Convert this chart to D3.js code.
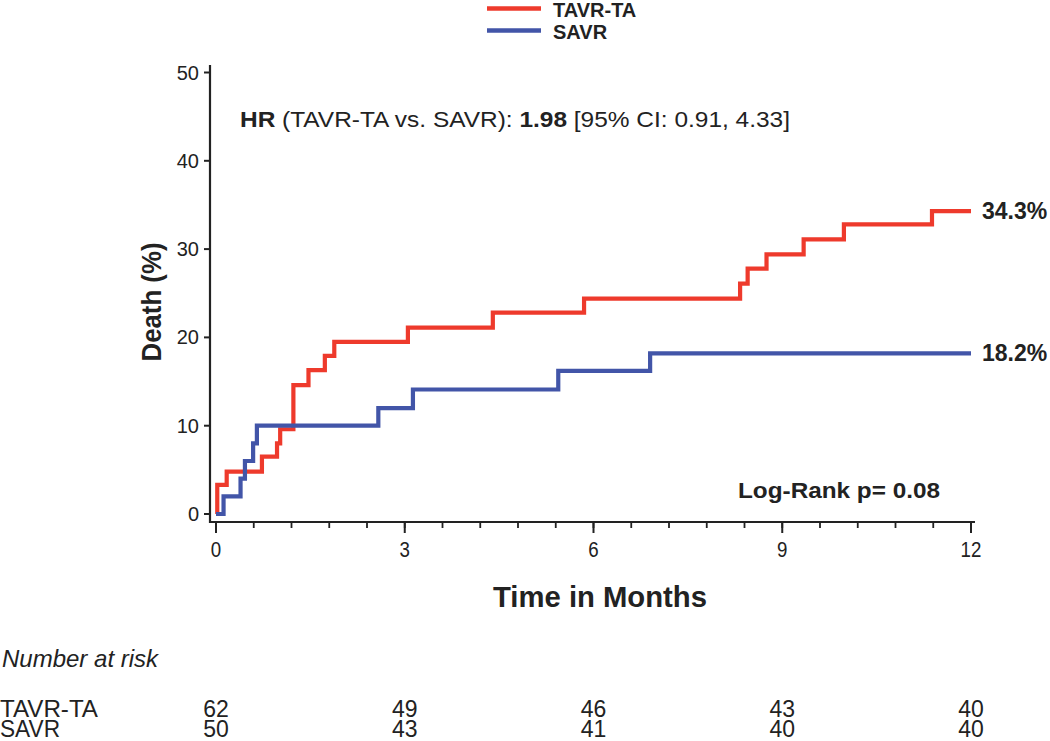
<!DOCTYPE html>
<html><head><meta charset="utf-8">
<script src="https://cdn.jsdelivr.net/npm/d3@7"></script>
<style>
html,body{margin:0;padding:0;background:#fff;}
svg{display:block;}
text{font-family:"Liberation Sans","Arial",sans-serif;fill:#222;}
</style></head>
<body>
<script>
// ---- data ----
const seriesNames = ["TAVR-TA", "SAVR"];
const tavrTimes = [0, 0.02, 0.17, 0.73, 0.97, 1.02, 1.23, 1.47, 1.73, 1.88, 3.05, 4.4, 5.85, 8.33, 8.45, 8.75, 9.34, 9.98, 11.38, 12];
const tavrDeath = [0, 3.3, 4.8, 6.5, 8.0, 9.6, 14.6, 16.3, 17.9, 19.5, 21.1, 22.8, 24.4, 26.1, 27.8, 29.4, 31.1, 32.8, 34.3, 34.3];
const savrTimes = [0, 0.12, 0.39, 0.46, 0.59, 0.65, 2.58, 3.13, 5.44, 6.9, 12];
const savrDeath = [0, 2.0, 4.0, 6.0, 8.0, 10.0, 12.0, 14.1, 16.2, 18.2, 18.2];
const xTicks = [0, 3, 6, 9, 12];
const yTicks = [0, 10, 20, 30, 40, 50];
const riskTimes = [0, 3, 6, 9, 12];
const riskTavr = [62, 49, 46, 43, 40];
const riskSavr = [50, 43, 41, 40, 40];
const endLabels = ["34.3%", "18.2%"];
const colors = ["#ee3a2c", "#4255a8"];

const W = 1050, H = 741;
const svg = d3.select("body").append("svg").attr("width", W).attr("height", H);

const x = d3.scaleLinear().domain([0, 12]).range([216, 971]);
const y = d3.scaleLinear().domain([0, 50]).range([514, 72.5]);

const axisColor = "#222";
// y axis
svg.append("line").attr("x1", 210).attr("x2", 210).attr("y1", 65).attr("y2", 523)
  .attr("stroke", axisColor).attr("stroke-width", 2.2);
const yAxis = svg.append("g");
yTicks.forEach(t => {
  yAxis.append("line").attr("x1", 204).attr("x2", 210).attr("y1", y(t)).attr("y2", y(t))
    .attr("stroke", axisColor).attr("stroke-width", 2);
  yAxis.append("text").attr("x", 199).attr("y", y(t) + 7).attr("text-anchor", "end")
    .attr("font-size", 20).text(t);
});
// x axis
svg.append("line").attr("x1", 209).attr("x2", 975).attr("y1", 522).attr("y2", 522)
  .attr("stroke", axisColor).attr("stroke-width", 2.2);
const minorTicks = d3.range(0, 12.001, 0.6);
minorTicks.forEach(t => {
  svg.append("line").attr("x1", x(t)).attr("x2", x(t)).attr("y1", 522).attr("y2", 528)
    .attr("stroke", axisColor).attr("stroke-width", 1.8);
});
xTicks.forEach(t => {
  svg.append("line").attr("x1", x(t)).attr("x2", x(t)).attr("y1", 522).attr("y2", 533)
    .attr("stroke", axisColor).attr("stroke-width", 2);
  svg.append("text").attr("transform", `translate(${x(t)},557) scale(0.85,1)`)
    .attr("text-anchor", "middle").attr("font-size", 22).text(t);
});

// axis titles
svg.append("text").attr("transform", "translate(161,302) rotate(-90)")
  .attr("text-anchor", "middle").attr("font-size", 28).attr("font-weight", "bold")
  .attr("textLength", 119).attr("lengthAdjust", "spacingAndGlyphs").text("Death (%)");
svg.append("text").attr("x", 493).attr("y", 607)
  .attr("font-size", 29).attr("font-weight", "bold")
  .attr("textLength", 214).attr("lengthAdjust", "spacingAndGlyphs").text("Time in Months");

// curves
const line = d3.line().x(d => x(d[0])).y(d => y(d[1])).curve(d3.curveStepAfter);
const savrData = savrTimes.map((t, i) => [t, savrDeath[i]]);
const tavrData = tavrTimes.map((t, i) => [t, tavrDeath[i]]);
svg.append("path").datum(tavrData).attr("d", line).attr("fill", "none")
  .attr("stroke", colors[0]).attr("stroke-width", 4.2);
svg.append("path").datum(savrData).attr("d", line).attr("fill", "none")
  .attr("stroke", colors[1]).attr("stroke-width", 4.2);

// end labels
svg.append("text").attr("x", 982).attr("y", y(tavrDeath[tavrDeath.length - 1]) + 8)
  .attr("font-size", 23).attr("font-weight", "bold").text(endLabels[0]);
svg.append("text").attr("x", 982).attr("y", y(savrDeath[savrDeath.length - 1]) + 8)
  .attr("font-size", 23).attr("font-weight", "bold").text(endLabels[1]);

// legend
seriesNames.forEach((n, i) => {
  const ly = 8.5 + i * 22;
  svg.append("line").attr("x1", 487).attr("x2", 541).attr("y1", ly).attr("y2", ly)
    .attr("stroke", colors[i]).attr("stroke-width", 4.5);
  svg.append("text").attr("x", 553).attr("y", ly + 8).attr("font-size", 20)
    .attr("font-weight", "bold").text(n);
});

// HR annotation
const hr = svg.append("text").attr("x", 240).attr("y", 127).attr("font-size", 22).attr("fill", "#333")
  .attr("textLength", 550).attr("lengthAdjust", "spacingAndGlyphs");
hr.append("tspan").attr("font-weight", "bold").text("HR");
hr.append("tspan").text(" (TAVR-TA vs. SAVR): ");
hr.append("tspan").attr("font-weight", "bold").text("1.98");
hr.append("tspan").text(" [95% CI: 0.91, 4.33]");

svg.append("text").attr("x", 738).attr("y", 498)
  .attr("font-size", 22).attr("font-weight", "bold")
  .attr("textLength", 202).attr("lengthAdjust", "spacingAndGlyphs").text("Log-Rank p= 0.08");

// risk table
svg.append("text").attr("x", 2).attr("y", 667).attr("font-size", 24)
  .attr("font-style", "italic").text("Number at risk");
const rows = [riskTavr, riskSavr];
rows.forEach((r, i) => {
  const ry = 717 + i * 20;
  svg.append("text").attr("x", 0).attr("y", ry).attr("font-size", 23)
    .attr("textLength", 98).attr("lengthAdjust", "spacingAndGlyphs").text(seriesNames[i])
    .attr("textLength", i === 0 ? 98 : 60);
  r.forEach((v, j) => {
    svg.append("text").attr("x", x(riskTimes[j])).attr("y", ry)
      .attr("text-anchor", "middle").attr("font-size", 23).text(v);
  });
});
</script>
</body></html>
